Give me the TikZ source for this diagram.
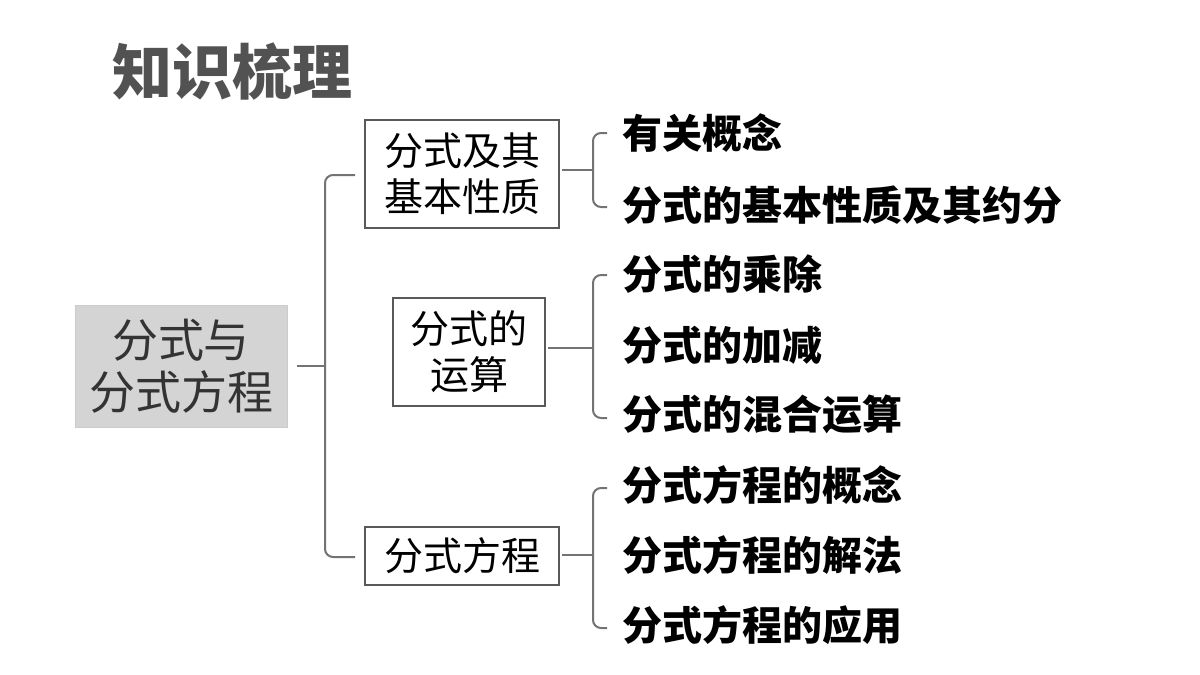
\documentclass[tikz,border=0pt]{standalone}
\usepackage{fontspec}
\newfontfamily\cjk{Noto Sans CJK SC}
\begin{document}
\begin{tikzpicture}[x=0.5pt,y=-0.5pt,
 br/.style={draw=black!55,line width=1pt,rounded corners=4pt},
 bx/.style={draw=black!65,line width=0.8pt,align=center,font=\cjk\fontsize{19.5}{23}\selectfont,inner sep=0pt},
 lb/.style={anchor=west,font=\cjk\bfseries\fontsize{20}{22}\selectfont,inner sep=0pt}]
\useasboundingbox (0,0) rectangle (1200,675);
\node[anchor=west,text=black!68,font=\cjk\bfseries\fontsize{30}{32}\selectfont,inner sep=0pt] (t) at (112,72) {知识梳理};
\node[fill=black!17,draw=black!20,minimum width=106pt,minimum height=61pt,align=center,text=black!80,font=\cjk\fontsize{23}{26}\selectfont,inner sep=0pt] (m) at (181,366) {分式与\\分式方程};
\node[bx,minimum width=97pt,minimum height=54pt] (b1) at (462,174) {分式及其\\基本性质};
\node[bx,minimum width=76pt,minimum height=54pt] (b2) at (469,352) {分式的\\运算};
\node[bx,minimum width=97pt,minimum height=29pt] (b3) at (462,556) {分式方程};
\coordinate (c0) at (325,366);
\draw[br] (355,175) -- (325,175) -- (325,557) -- (355,557);
\draw[br] (297,366) -- (c0);
\foreach \b/\y/\a/\z in {b1/170/133/207, b2/348/275/418, b3/555/488/628}{
  \draw[br] (\b.east |- 0,\y) ++(2,0) -- (593,\y);
  \draw[br] (607,\a) -- (593,\a) -- (593,\z) -- (607,\z);
}
\node[lb] (l1) at (622,133) {有关概念};
\node[lb] (l2) at (622,205) {分式的基本性质及其约分};
\node[lb] (l3) at (622,274) {分式的乘除};
\node[lb] (l4) at (622,345) {分式的加减};
\node[lb] (l5) at (622,414) {分式的混合运算};
\node[lb] (l6) at (622,485) {分式方程的概念};
\node[lb] (l7) at (622,555) {分式方程的解法};
\node[lb] (l8) at (622,625) {分式方程的应用};
\end{tikzpicture}
\end{document}
